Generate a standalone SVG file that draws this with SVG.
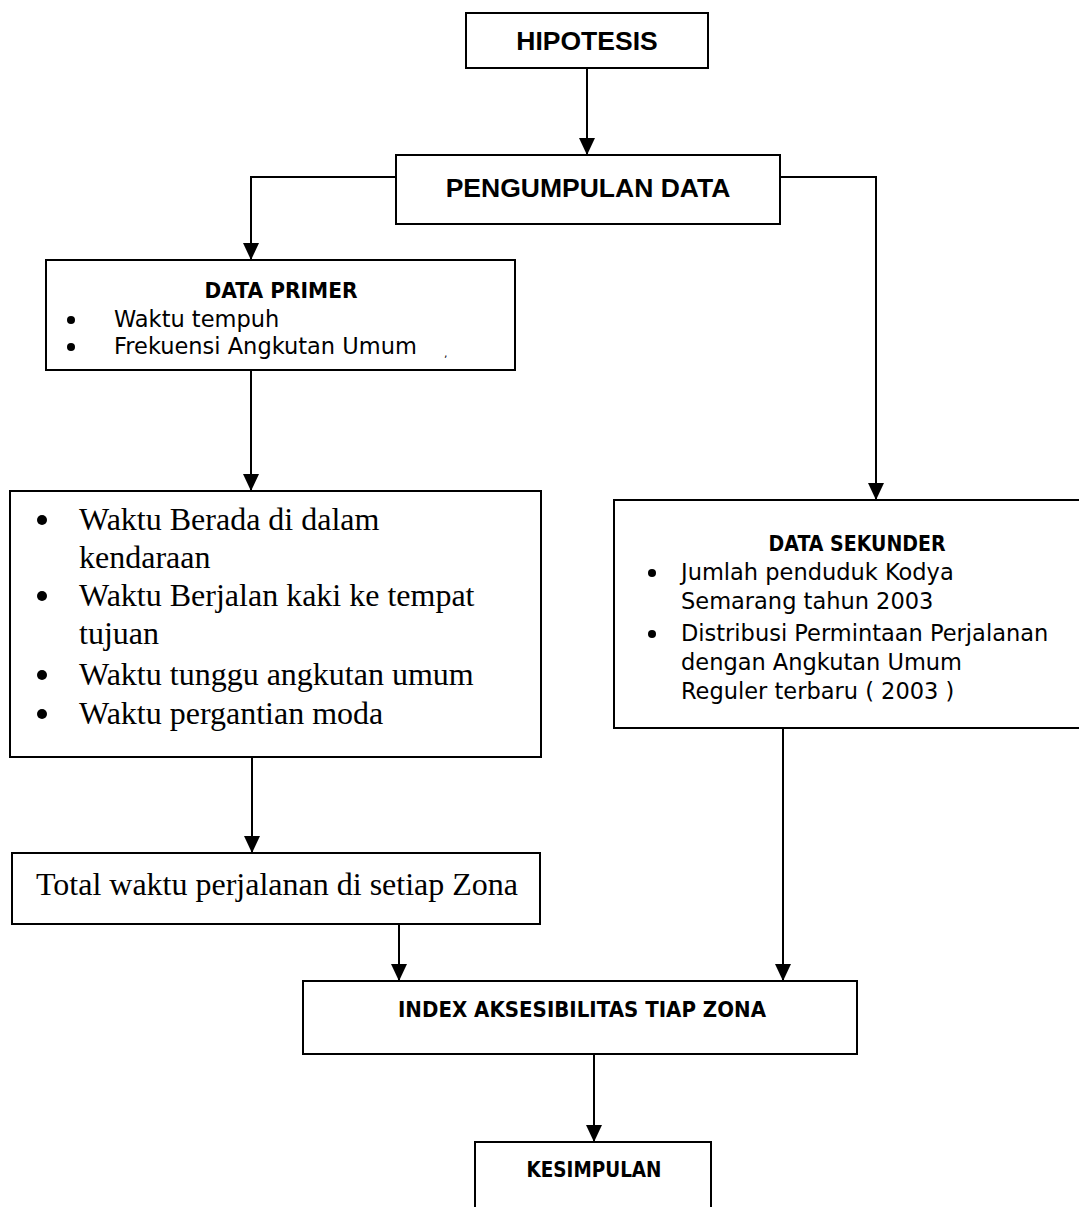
<svg xmlns="http://www.w3.org/2000/svg" width="1079" height="1207" viewBox="0 0 1079 1207">
<style>
.box{fill:#fff;stroke:#000;stroke-width:2}
.con{fill:none;stroke:#000;stroke-width:2}
.ah{font-family:"Liberation Sans",Arial,sans-serif;font-weight:bold;font-size:26.5px;text-anchor:middle}
.cg{font-family:"DejaVu Sans","Liberation Sans",sans-serif;font-size:22.5px}
.cgb{font-family:"DejaVu Sans","Liberation Sans",sans-serif;font-weight:bold;font-size:22px;text-anchor:middle}
.tm{font-family:"Liberation Serif","Times New Roman",serif;font-size:32px}
.dot{fill:#000}
</style>
<defs>
<marker id="arr" markerUnits="userSpaceOnUse" markerWidth="17" markerHeight="16" refX="17" refY="8" orient="auto" viewBox="0 0 17 16">
<path d="M0,0 L17,8 L0,16 Z" fill="#000"/>
</marker>
</defs>
<g id="connectors">
<line class="con" x1="587" y1="68" x2="587" y2="155" marker-end="url(#arr)"/>
<polyline class="con" points="396,177 251,177 251,260" marker-end="url(#arr)"/>
<polyline class="con" points="780,177 876,177 876,500" marker-end="url(#arr)"/>
<line class="con" x1="251" y1="370" x2="251" y2="491" marker-end="url(#arr)"/>
<line class="con" x1="252" y1="757" x2="252" y2="853" marker-end="url(#arr)"/>
<line class="con" x1="399" y1="919" x2="399" y2="981" marker-end="url(#arr)"/>
<line class="con" x1="783" y1="728" x2="783" y2="981" marker-end="url(#arr)"/>
<line class="con" x1="594" y1="1054" x2="594" y2="1142" marker-end="url(#arr)"/>
</g>
<g id="hipotesis">
<rect class="box" x="466" y="13" width="242" height="55"/>
<text class="ah" x="587" y="50">HIPOTESIS</text>
</g>
<g id="pengumpulan">
<rect class="box" x="396" y="155" width="384" height="69"/>
<text class="ah" x="588" y="197">PENGUMPULAN DATA</text>
</g>
<g id="data-primer">
<rect class="box" x="46" y="260" width="469" height="110"/>
<text class="cgb" x="281" y="298" textLength="153" lengthAdjust="spacingAndGlyphs">DATA PRIMER</text>
<circle class="dot" cx="71" cy="320" r="4"/>
<text class="cg" x="114" y="327">Waktu tempuh</text>
<circle class="dot" cx="71" cy="347" r="4"/>
<text class="cg" x="114" y="354">Frekuensi Angkutan Umum</text>
<text class="cg" x="444" y="357" style="font-size:11px">,</text>
</g>
<g id="komponen-waktu">
<rect class="box" x="10" y="491" width="531" height="266"/>
<circle class="dot" cx="42" cy="520" r="5"/>
<text class="tm" x="79" y="530">Waktu Berada di dalam</text>
<text class="tm" x="79" y="568">kendaraan</text>
<circle class="dot" cx="42" cy="596" r="5"/>
<text class="tm" x="79" y="606">Waktu Berjalan kaki ke tempat</text>
<text class="tm" x="79" y="644">tujuan</text>
<circle class="dot" cx="42" cy="675" r="5"/>
<text class="tm" x="79" y="685">Waktu tunggu angkutan umum</text>
<circle class="dot" cx="42" cy="714" r="5"/>
<text class="tm" x="79" y="724">Waktu pergantian moda</text>
</g>
<g id="total-waktu">
<rect class="box" x="12" y="853" width="528" height="71"/>
<text class="tm" x="36" y="895">Total waktu perjalanan di setiap Zona</text>
</g>
<g id="data-sekunder">
<rect class="box" x="614" y="500" width="480" height="228"/>
<text class="cgb" x="857" y="551" textLength="177" lengthAdjust="spacingAndGlyphs">DATA SEKUNDER</text>
<circle class="dot" cx="652" cy="573" r="4"/>
<text class="cg" x="681" y="580">Jumlah penduduk Kodya</text>
<text class="cg" x="681" y="609">Semarang tahun 2003</text>
<circle class="dot" cx="652" cy="634" r="4"/>
<text class="cg" x="681" y="641">Distribusi Permintaan Perjalanan</text>
<text class="cg" x="681" y="670">dengan Angkutan Umum</text>
<text class="cg" x="681" y="699">Reguler terbaru ( 2003 )</text>
</g>
<g id="index">
<rect class="box" x="303" y="981" width="554" height="73"/>
<text class="cgb" x="582" y="1017" textLength="368" lengthAdjust="spacingAndGlyphs">INDEX AKSESIBILITAS TIAP ZONA</text>
</g>
<g id="kesimpulan">
<rect class="box" x="475" y="1142" width="236" height="80"/>
<text class="cgb" x="594" y="1177" textLength="135" lengthAdjust="spacingAndGlyphs">KESIMPULAN</text>
</g>
</svg>
